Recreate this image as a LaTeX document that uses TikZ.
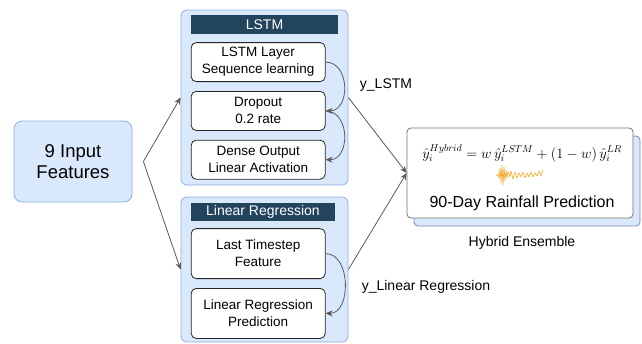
\documentclass[tikz,border=0pt]{standalone}
\usepackage{fontspec}
\setmainfont{Liberation Sans}
\usetikzlibrary{positioning,arrows.meta}

\definecolor{panelfill}{HTML}{DAE8FC}
\definecolor{panelline}{HTML}{8FB0E0}
\definecolor{headfill}{HTML}{23445D}
\definecolor{linkgray}{HTML}{595959}
\definecolor{waveorange}{HTML}{F5A623}

\begin{document}
\begin{tikzpicture}[x=1pt, y=-1pt, node distance=9pt,
  panel/.style={draw=panelline, fill=panelfill, rounded corners=6pt, minimum width=167pt, line width=0.8pt},
  head/.style={fill=headfill, text=white, inner sep=0pt, minimum height=19pt, font=\fontsize{14}{16}\selectfont},
  box/.style={draw=black!85, fill=white, rounded corners=5pt, align=center, minimum width=134pt, inner sep=1pt, line width=0.8pt, font=\fontsize{13.5}{17}\selectfont},
  inbox/.style={draw=panelline, fill=panelfill, rounded corners=8pt, align=center, minimum width=118pt, minimum height=81pt, line width=0.8pt, font=\fontsize{18.5}{21}\selectfont},
  outbox/.style={draw=black!55, rounded corners=4pt, minimum width=226pt, minimum height=90pt, line width=0.8pt},
  lbl/.style={font=\fontsize{14}{16}\selectfont, inner sep=0pt},
  arr/.style={draw=linkgray, line width=0.8pt, -{Stealth[length=7pt,width=6pt]}}]
\useasboundingbox (0,0) rectangle (642,343);

% input features
\node[inbox] (in) at (73,161.5) {9 Input\\Features};
\coordinate (fork) at ([xshift=11pt] in.east);

% lstm branch
\node[panel, minimum height=175pt] (lstm) at (264.5,97.5) {};
\node[head, minimum width=147pt] (lhead) at (264.5,24.5) {LSTM};
\node[box, minimum height=39pt, below=8pt of lhead.south west, anchor=north west] (l1) {LSTM Layer\\Sequence learning};
\node[box, minimum height=39pt, below=of l1] (l2) {Dropout\\0.2 rate};
\node[box, minimum height=39pt, below=of l2] (l3) {Dense Output\\Linear Activation};

% linear regression branch
\node[panel, minimum height=145pt] (lr) at (264.5,269.5) {};
\node[head, minimum width=144pt, minimum height=18pt] (rhead) at (263,212) {Linear Regression};
\node[box, minimum height=50pt, below=7pt of rhead.south west, anchor=north west] (r1) {Last Timestep\\Feature};
\node[box, minimum height=50pt, below=of r1] (r2) {Linear Regression\\Prediction};

% ensemble output
\node[outbox, draw=panelline!80!black, fill=panelfill] (hybback) at (527,181) {};
\node[outbox, fill=white] (hyb) at (520,173) {};
\node[font=\fontsize{14.8}{17}\selectfont, inner sep=0pt] (eq) at (522,153)
  {$\hat{y}_i^{Hybrid} = w\,\hat{y}_i^{LSTM} + (1-w)\,\hat{y}_i^{LR}$};
\node[font=\fontsize{16}{18}\selectfont, inner sep=0pt] (pred) at (522,203) {90-Day Rainfall Prediction};
\node[lbl] (ens) at (522,243) {Hybrid Ensemble};
\draw[waveorange, line width=0.6pt, line join=round] plot coordinates {
  (496,176) (498,174) (499,178) (500,168) (501,183) (502,165) (503,185) (504,167)
  (505,181) (506,170) (507,178) (508,172) (510,177) (511,171) (513,179) (515,172)
  (517,178) (519,173) (521,177) (523,172) (525,178) (527,173) (529,177) (531,172)
  (533,177) (535,173) (537,176) (539,171) (541,176) (543,170)};

% connectors
\draw[arr] (fork) -- (lstm.west);
\draw[arr] (fork) -- (lr.west);
\draw[arr] (l1.east) to[out=0, in=0, looseness=1.3] (l2.east);
\draw[arr] (l2.east) to[out=0, in=0, looseness=1.3] (l3.east);
\draw[arr] (r1.east) to[out=0, in=0, looseness=1.1] (r2.east);
\draw[arr] (lstm.east) -- (hyb.west);
\draw[arr] (lr.east) -- (hyb.west);
\node[lbl] (ylstm) at (386,85) {y\_LSTM};
\node[lbl] (ylr) at (426,287) {y\_Linear Regression};
\end{tikzpicture}
\end{document}
